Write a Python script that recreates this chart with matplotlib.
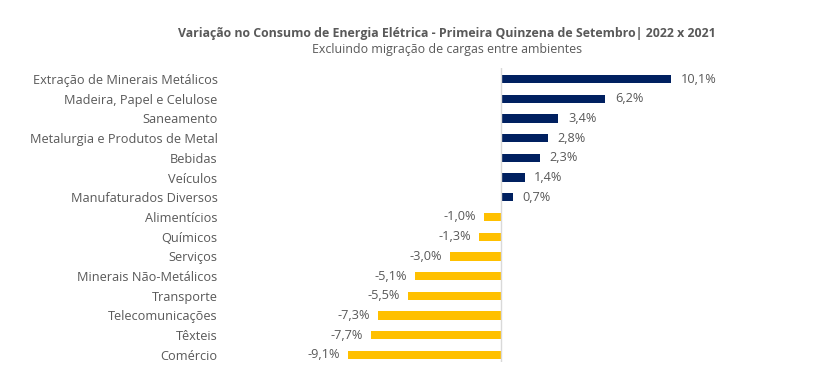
import numpy as np
import matplotlib.pyplot as plt

plt.rcParams['font.family'] = ['Open Sans', 'DejaVu Sans']

setores = ["Extração de Minerais Metálicos", "Madeira, Papel e Celulose", "Saneamento",
           "Metalurgia e Produtos de Metal", "Bebidas", "Veículos", "Manufaturados Diversos",
           "Alimentícios", "Químicos", "Serviços", "Minerais Não-Metálicos", "Transporte",
           "Telecomunicações", "Têxteis", "Comércio"]
variacao = [10.1, 6.2, 3.4, 2.8, 2.3, 1.4, 0.7, -1.0, -1.3, -3.0, -5.1, -5.5, -7.3, -7.7, -9.1]

azul = "#002060"
amarelo = "#FFC000"
cinza = "#595959"

fig = plt.figure(figsize=(8.13, 3.92), dpi=100)
ax = fig.add_axes([230 / 813, 30 / 392, 560 / 813, 294 / 392])

y = np.arange(len(setores))
cores = [azul if v > 0 else amarelo for v in variacao]
ax.barh(y, variacao, height=0.42, color=cores)

for yi, v in zip(y, variacao):
    txt = f"{v:.1f}%".replace(".", ",")
    if v > 0:
        ax.annotate(txt, (v, yi), xytext=(7, 0), textcoords="offset points",
                    ha="left", va="center", fontsize=9.2, color=cinza)
    else:
        ax.annotate(txt, (v, yi), xytext=(-6, 0), textcoords="offset points",
                    ha="right", va="center", fontsize=9.2, color=cinza)

ax.set_xlim(-16.1, 17.17)
ax.set_ylim(14.36, -0.56)
ax.set_yticks(y)
ax.set_yticklabels(setores, fontsize=9.2, color=cinza)
ax.tick_params(axis="y", length=0, pad=9)
ax.set_xticks([])
for s in ax.spines.values():
    s.set_visible(False)
ax.axvline(0, color="#d9d9d9", lw=1)

fig.text(447 / 813, 1 - 33 / 392, "Variação no Consumo de Energia Elétrica - Primeira Quinzena de Setembro| 2022 x 2021",
         ha="center", va="center", fontsize=8.9, fontweight="bold", color=cinza)
fig.text(447 / 813, 1 - 49 / 392, "Excluindo migração de cargas entre ambientes",
         ha="center", va="center", fontsize=8.9, color=cinza)

fig.savefig("out.png", dpi=100)
